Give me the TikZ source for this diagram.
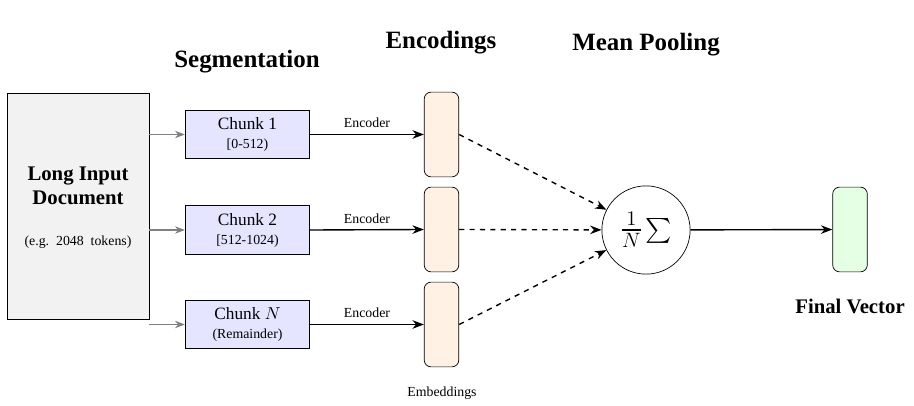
\documentclass[tikz,border=0pt]{standalone}
\usepackage{amsmath}
\usepackage{fontspec}
\setmainfont{Liberation Serif}[BoldFont={Liberation Serif Bold}]
\usetikzlibrary{arrows.meta,positioning}
\tikzset{%
  box/.style={draw, inner sep=2pt, align=center},
  chunk/.style={box, fill=blue!10, minimum width=72pt, minimum height=28pt},
  vec/.style={draw, rounded corners=4pt, minimum width=20pt, minimum height=49pt},
  heading/.style={font=\Large\bfseries},
  feed/.style={-{Stealth}, gray, semithick},
  enc/.style={-{Stealth}, thick},
  pool/.style={-{Stealth}, thick, dashed}
}

\begin{document}
\begin{tikzpicture}[x=0.578pt, y=-0.578pt]
    % \draw (0,0) grid (914,406);
    \useasboundingbox (0,0) rectangle (914,406);

      \node[box, fill=gray!10, minimum width=82pt, minimum height=131pt] (doc) at (78,206.5) {};
      \node[font=\large\bfseries, align=center] (doctitle) at (78,186) {Long Input\\Document};
      \node[font=\footnotesize] (docnote) at (78,242) {(e.g.\enspace 2048\enspace tokens)};

      \node[chunk] (c1) at (247.5,134.5) {Chunk 1\\[-1pt]{\footnotesize [0-512)}};
      \node[chunk] (c2) at (247.5,230) {Chunk 2\\[-1pt]{\footnotesize [512-1024)}};
      \node[chunk] (c3) at (247.5,324.5) {Chunk $N$\\[-1pt]{\footnotesize (Remainder)}};

      \node[vec, fill=orange!10] (e1) at (441.5,134.5) {};
      \node[vec, fill=orange!10] (e2) at (441.5,229.5) {};
      \node[vec, fill=orange!10] (e3) at (441.5,324.5) {};

      \node[draw, circle, minimum size=51pt, inner sep=0pt] (sum) at (646,230) {{\LARGE$\frac{1}{N}$}\,{\Large$\sum$}};
      \node[vec, fill=green!10] (final) at (850,229.5) {};

      \node[heading] (seg) at (247,62) {Segmentation};
      \node[heading] (encs) at (441,43) {Encodings};
      \node[heading] (mean) at (646,45) {Mean Pooling};
      \node[font=\large\bfseries] (fv) at (850,306) {Final Vector};
      \node[font=\footnotesize] (emb) at (442,393) {Embeddings};

      \foreach \i in {1,2,3} {
        \draw[feed] (doc.east |- c\i.west) -- (c\i.west);
        \draw[enc] (c\i.east) -- node[above, font=\footnotesize] {Encoder} (e\i.west);
        \draw[pool] (e\i.east) -- (sum);
      }
      \draw[enc] (sum) -- (final);

  \end{tikzpicture}
\end{document}
